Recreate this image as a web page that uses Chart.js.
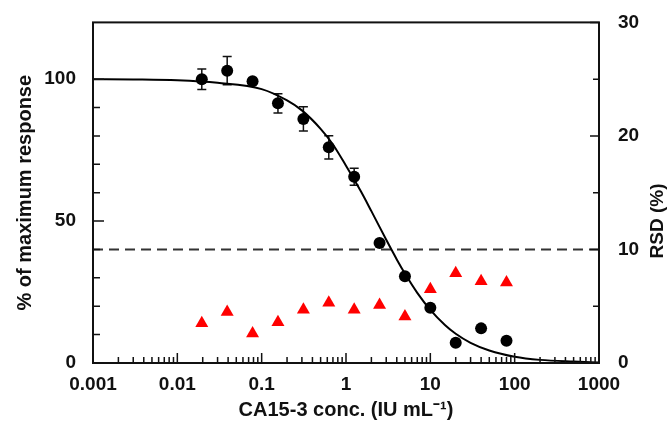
<!DOCTYPE html>
<html>
<head>
<meta charset="utf-8">
<script src="https://cdn.jsdelivr.net/npm/chart.js@4"></script>
<style>
  html, body { margin: 0; padding: 0; background: #fff; }
  #wrap { width: 670px; height: 426px; }
</style>
</head>
<body>
<div id="wrap"><canvas id="kurve"></canvas></div>
<script>
// waarden
var conc = [0.0195, 0.039, 0.078, 0.156, 0.3125, 0.625, 1.25, 2.5, 5, 10, 20, 40, 80];
var response = [100, 103, 99.3, 91.5, 86, 76, 65.6, 42.3, 30.6, 19.5, 7.1, 12.2, 7.8];
var responseErr = [3.6, 5, 0, 3.4, 4.3, 4.1, 3, 0, 0, 0, 0, 0, 0];
var rsd = [3.5, 4.5, 2.6, 3.6, 4.7, 5.3, 4.7, 5.1, 4.1, 6.5, 7.9, 7.2, 7.1];

var fitConc = [0.001, 0.003, 0.01, 0.03, 0.1, 0.2, 0.3, 0.5, 0.7, 1, 1.5, 2, 3, 4, 5, 7, 10, 15, 20, 30, 50, 100, 200, 500, 1000];
var fitResponse = [100, 99.9, 99.6, 98.7, 96.5, 92.5, 89, 82.5, 77, 69.5, 60.5, 53.5, 43.4, 36.5, 31.5, 24.7, 18.7, 13.3, 10.3, 7.1, 4.4, 2.2, 1.1, 0.5, 0.2];
var cutoffRsd = 10;

var xTickLabels = ['0.001', '0.01', '0.1', '1', '10', '100', '1000'];
var yTickLabels = ['0', '50', '100'];
var y2TickLabels = ['0', '10', '20', '30'];

Chart.defaults.font.family = "'Liberation Sans', Arial, sans-serif";
Chart.defaults.font.weight = 'bold';
Chart.defaults.color = '#111';

function pts(xs, ys) {
  return xs.map(function(x, i) { return { x: x, y: ys[i] }; });
}

// kader, inwaartse streepjes, foutbalken en rechter titel
var kader = {
  id: 'kader',
  beforeDatasetsDraw: function(chart) {
    var ctx = chart.ctx, sx = chart.scales.x, sy = chart.scales.y;
    ctx.save();
    ctx.strokeStyle = '#111';
    ctx.lineWidth = 1.5;
    ctx.beginPath();
    conc.forEach(function(c, i) {
      var e = responseErr[i];
      if (!e) return;
      var px = sx.getPixelForValue(c);
      var top = sy.getPixelForValue(response[i] + e);
      var bot = sy.getPixelForValue(response[i] - e);
      ctx.moveTo(px, top); ctx.lineTo(px, bot);
      ctx.moveTo(px - 4.5, top); ctx.lineTo(px + 4.5, top);
      ctx.moveTo(px - 4.5, bot); ctx.lineTo(px + 4.5, bot);
    });
    ctx.stroke();
    ctx.restore();
  },
  afterDraw: function(chart) {
    var ctx = chart.ctx, a = chart.chartArea;
    var sx = chart.scales.x, sy = chart.scales.y, sy2 = chart.scales.y2;
    ctx.save();
    ctx.strokeStyle = '#111';
    ctx.lineWidth = 2;
    ctx.strokeRect(a.left, a.top, a.right - a.left, a.bottom - a.top);
    ctx.lineWidth = 1.5;
    ctx.beginPath();
    // x-as: decaden en tussenstreepjes
    xTickLabels.forEach(function(lbl, i) {
      var dec = parseFloat(lbl);
      for (var m = 1; m <= 9; m++) {
        if (i === xTickLabels.length - 1 && m > 1) break;
        var px = sx.getPixelForValue(dec * m);
        var len = m === 1 ? 10 : 6;
        ctx.moveTo(px, a.bottom); ctx.lineTo(px, a.bottom - len);
      }
    });
    // linker y-as
    for (var v = 0; v <= 100; v += 10) {
      var py = sy.getPixelForValue(v);
      ctx.moveTo(a.left, py); ctx.lineTo(a.left + (v % 50 === 0 ? 11 : 7), py);
    }
    // rechter y-as
    for (var w = 0; w <= 30; w += 5) {
      var py2 = sy2.getPixelForValue(w);
      ctx.moveTo(a.right, py2); ctx.lineTo(a.right - (w % 10 === 0 ? 9 : 6), py2);
    }
    ctx.stroke();
    // titel rechts (leest van onder naar boven)
    ctx.translate(658, 221);
    ctx.rotate(-Math.PI / 2);
    ctx.fillStyle = '#111';
    ctx.font = "bold 19px 'Liberation Sans', Arial, sans-serif";
    ctx.textAlign = 'center';
    ctx.textBaseline = 'middle';
    ctx.fillText('RSD (%)', 0, 0);
    ctx.restore();
  }
};

function curve() {
  var ctx = document.getElementById('kurve');
  var myChart = new Chart(ctx, {
    type: 'scatter',
    data: {
      datasets: [{
        data: pts(conc, response),
        yAxisID: 'y',
        pointRadius: 6,
        pointBackgroundColor: '#000',
        pointBorderColor: '#000',
        borderWidth: 0
      }, {
        data: pts(conc, rsd),
        yAxisID: 'y2',
        pointStyle: 'triangle',
        pointRadius: 7.5,
        pointBackgroundColor: '#ff0000',
        pointBorderColor: '#ff0000',
        borderWidth: 0
      }, {
        data: pts(fitConc, fitResponse),
        yAxisID: 'y',
        showLine: true,
        pointRadius: 0,
        borderColor: '#000',
        borderWidth: 2,
        cubicInterpolationMode: 'monotone'
      }, {
        data: pts([fitConc[0], fitConc[fitConc.length - 1]], [cutoffRsd, cutoffRsd]),
        yAxisID: 'y2',
        showLine: true,
        pointRadius: 0,
        borderColor: '#333',
        borderWidth: 2,
        borderDash: [10, 6]
      }]
    },
    options: {
      responsive: true,
      maintainAspectRatio: false,
      animation: false,
      devicePixelRatio: 1,
      layout: { padding: { top: 21, left: 0, right: 0, bottom: 0 } },
      scales: {
        x: { // X-as
          type: 'logarithmic',
          min: 0.001,
          max: 1000,
          afterBuildTicks: function(scale) {
            scale.ticks = xTickLabels.map(function(l) { return { value: parseFloat(l) }; });
          },
          afterFit: function(scale) { scale.height = 63; },
          ticks: {
            autoSkip: false,
            maxRotation: 0,
            padding: 2,
            font: { size: 19 },
            callback: function(v, i) { return xTickLabels[i]; }
          },
          grid: { display: false },
          border: { display: false },
          title: {
            display: true,
            text: 'CA15-3 conc. (IU mL\u207B\u00B9)',
            font: { size: 20 },
            padding: { top: 0, bottom: 4 }
          }
        },
        y: { // Y-as links
          position: 'left',
          min: 0,
          max: 120,
          afterBuildTicks: function(scale) {
            scale.ticks = yTickLabels.map(function(l) { return { value: parseFloat(l) }; });
          },
          afterFit: function(scale) { scale.width = 93; },
          ticks: {
            padding: 9,
            font: { size: 19 },
            callback: function(v, i) { return yTickLabels[i]; }
          },
          grid: { display: false },
          border: { display: false },
          title: {
            display: true,
            text: '% of maximum response',
            font: { size: 20 },
            padding: { top: 13, bottom: 0 }
          }
        },
        y2: { // Y-as rechts
          position: 'right',
          min: 0,
          max: 30,
          afterBuildTicks: function(scale) {
            scale.ticks = y2TickLabels.map(function(l) { return { value: parseFloat(l) }; });
          },
          afterFit: function(scale) { scale.width = 71; },
          ticks: {
            padding: 11,
            font: { size: 19 },
            callback: function(v, i) { return y2TickLabels[i]; }
          },
          grid: { display: false },
          border: { display: false }
        }
      },
      plugins: {
        legend: { display: false },
        tooltip: { enabled: false }
      }
    },
    plugins: [kader]
  });
}

window.onload = function() {
  curve();
};
</script>
</body>
</html>
